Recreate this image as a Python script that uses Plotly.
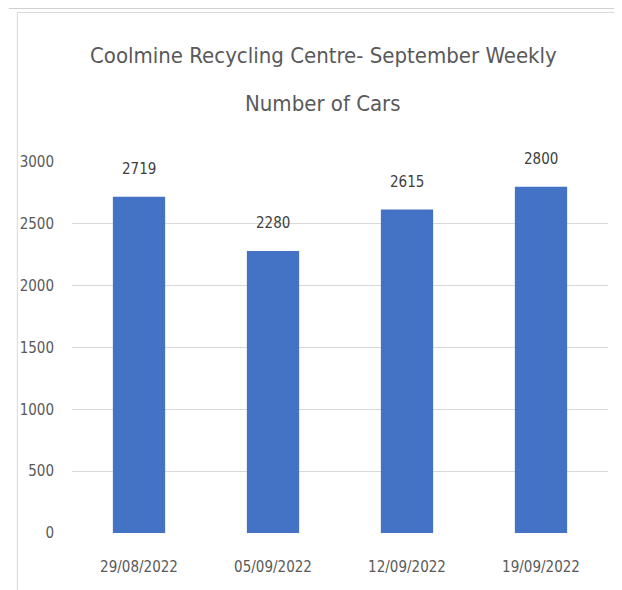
import plotly.graph_objects as go

categories = ["29/08/2022", "05/09/2022", "12/09/2022", "19/09/2022"]
cars = [2719, 2280, 2615, 2800]
y_ticks = [0, 500, 1000, 1500, 2000, 2500, 3000]
title_line1 = "Coolmine Recycling Centre- September Weekly"
title_line2 = "Number of Cars"

FONT = "Liberation Sans Narrow, DejaVu Sans Condensed, Arial Narrow, sans-serif"

# page has an 8px body margin: figure coordinates = reference coordinates - 8
OFF = 8
W, H = 622 - OFF, 590 - OFF
L, R, T, B = 64 - OFF, 14, 162 - OFF, 57
pw, ph = W - L - R, H - T - B

def px(x):
    return (x - OFF - L) / pw

def py(y):
    return (H - B - (y - OFF)) / ph

fig = go.Figure()
fig.add_trace(go.Bar(
    x=categories, y=cars,
    marker=dict(color="#4472C4", line=dict(width=0)),
    hoverinfo="x+y",
))

annotations = []
for c, v in zip(categories, cars):
    annotations.append(dict(
        x=c, y=v, xref="x", yref="y", text=str(v), showarrow=False,
        yanchor="bottom", yshift=17,
        font=dict(family=FONT, size=15, color="#404040"),
    ))
annotations.append(dict(
    x=px(319), y=py(56), xref="paper", yref="paper", text=title_line1,
    showarrow=False, xanchor="center", yanchor="middle",
    font=dict(family=FONT, size=22, color="#595959"),
))
annotations.append(dict(
    x=px(319), y=py(104), xref="paper", yref="paper", text=title_line2,
    showarrow=False, xanchor="center", yanchor="middle",
    font=dict(family=FONT, size=22, color="#595959"),
))

shapes = [
    dict(type="line", xref="paper", yref="paper", x0=px(0), x1=px(640), y0=py(8.5), y1=py(8.5),
         line=dict(color="#d0d0d0", width=1)),
    dict(type="line", xref="paper", yref="paper", x0=px(8.5), x1=px(640), y0=py(12.5), y1=py(12.5),
         line=dict(color="#d9d9d9", width=1)),
    dict(type="line", xref="paper", yref="paper", x0=px(8.5), x1=px(8.5), y0=py(12.5), y1=py(600),
         line=dict(color="#d9d9d9", width=1)),
]

fig.update_layout(
    width=W, height=H,
    margin=dict(l=L, r=R, t=T, b=B, pad=0),
    paper_bgcolor="white", plot_bgcolor="white",
    showlegend=False,
    bargap=0.61,
    annotations=annotations,
    shapes=shapes,
    font=dict(family=FONT, color="#595959"),
)
fig.update_xaxes(
    showgrid=False, showline=False, zeroline=False, ticks="",
    tickfont=dict(family=FONT, size=15, color="#595959"),
    ticklabelstandoff=23,
)
fig.update_yaxes(
    range=[0, 3000], tickvals=y_ticks,
    showgrid=True, gridcolor="#d9d9d9", gridwidth=1,
    zeroline=False, showline=False, ticks="",
    tickfont=dict(family=FONT, size=15, color="#595959"),
    ticklabelstandoff=17,
)

fig.write_html("out.html")
